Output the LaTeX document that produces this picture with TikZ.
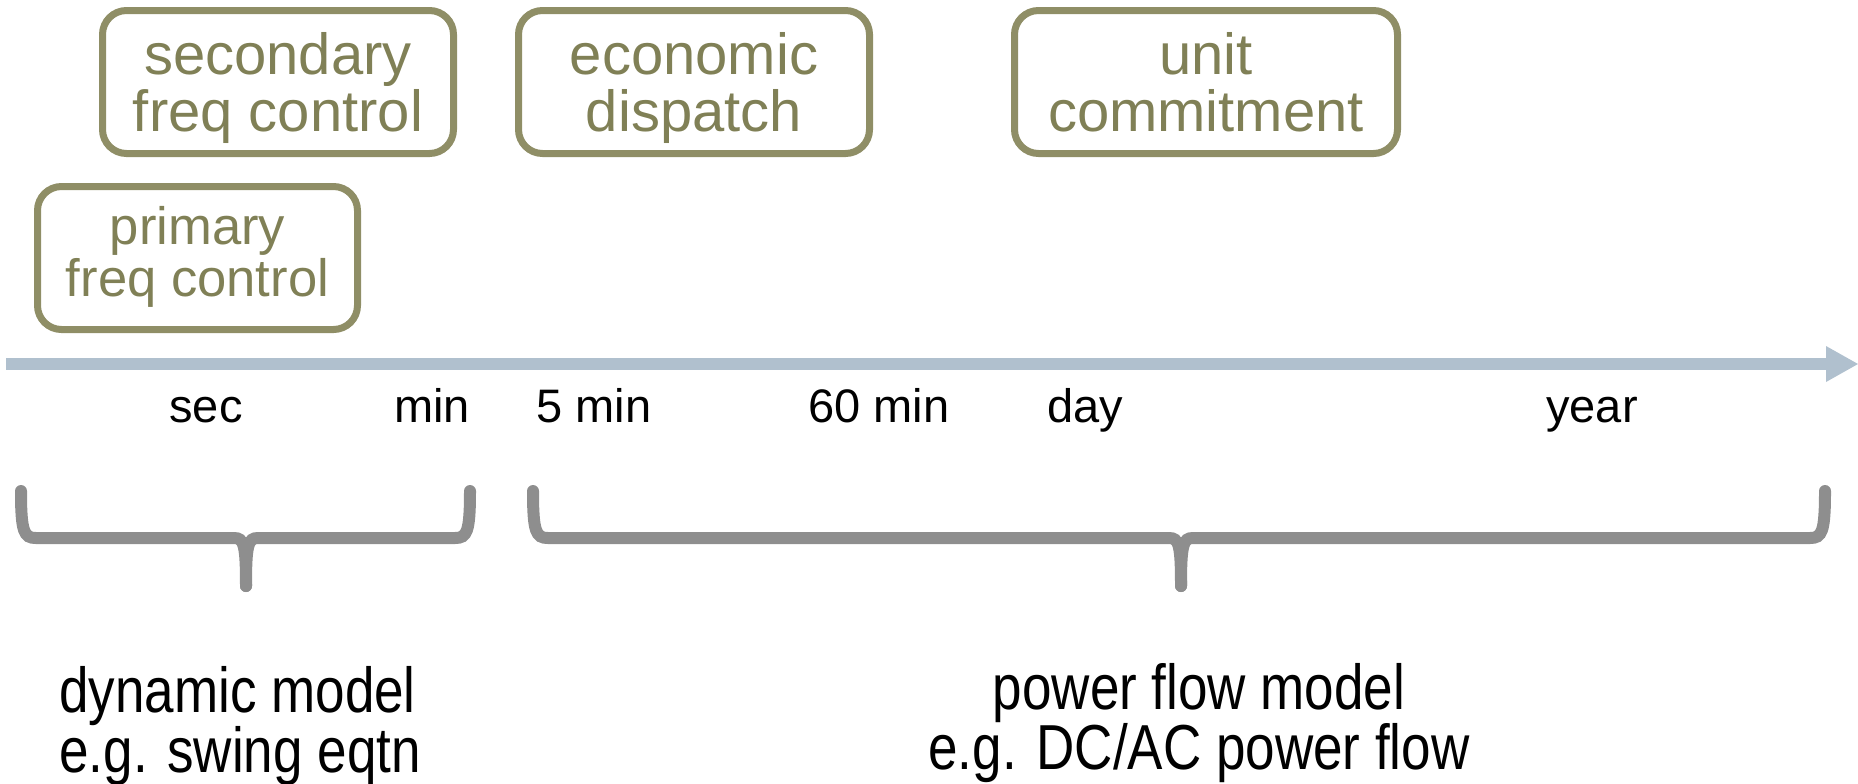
\documentclass[tikz,border=0pt]{standalone}
\usepackage{fontspec}
\setmainfont{Liberation Sans}
\usepackage{tikz}
\usetikzlibrary{arrows.meta}

\definecolor{boxolive}{RGB}{143,142,102}
\definecolor{textolive}{RGB}{128,128,86}
\definecolor{axisblue}{RGB}{176,192,206}
\definecolor{bracegray}{RGB}{142,142,142}

\begin{document}
\begin{tikzpicture}[x=0.5pt, y=-0.5pt,
    ctrlbox/.style={draw=boxolive, line width=3.5pt, rounded corners=12pt, text=textolive,
      align=center, minimum height=71.5pt, inner sep=0pt, text height=49pt, text depth=0pt,
      font=\fontsize{29}{28.5}\selectfont},
    timelabel/.style={font=\fontsize{23.5}{28}\selectfont, anchor=base},
    brace/.style={draw=bracegray, line width=6pt, line cap=round},
    model/.style={font=\fontsize{26.5}{30}\selectfont}]
  \useasboundingbox (0,0) rectangle (1858,783);

  % control tasks
  \node[ctrlbox, minimum width=175.5pt] (secondary) at (278,82) {secondary\\freq control};
  \node[ctrlbox, minimum width=160pt, text height=38pt, font=\fontsize{26.3}{24.5}\selectfont] (primary) at (197.5,258) {primary\\freq control};
  \node[ctrlbox, minimum width=175.5pt] (dispatch) at (694,82) {economic\\dispatch};
  \node[ctrlbox, minimum width=191.5pt] (commit) at (1206,82) {unit\\commitment};

  % time axis
  \coordinate (t0) at (6,364);
  \coordinate (t1) at (1858,364);
  \draw[draw=axisblue, line width=6pt, -{Triangle[length=16pt,width=18pt,line width=0pt]}] (t0) -- (t1);

  \node[timelabel] (sec) at (206,422) {sec};
  \node[timelabel] (min) at (432,422) {min};
  \node[timelabel] (fivemin) at (594,422) {5 min};
  \node[timelabel] (sixtymin) at (879,422) {60 min};
  \node[timelabel] (day) at (1085,422) {day};
  \node[timelabel] (year) at (1592,422) {year};

  % braces
  \draw[brace] (21,491) .. controls (21,532) and (24,538) .. (36,538) -- (234,538)
    .. controls (244,538) and (246,545) .. (246,586);
  \draw[brace] (470,491) .. controls (470,532) and (467,538) .. (455,538) -- (258,538)
    .. controls (248,538) and (246,545) .. (246,586);
  \draw[brace] (533,491) .. controls (533,532) and (536,538) .. (548,538) -- (1169,538)
    .. controls (1179,538) and (1181,545) .. (1181,586);
  \draw[brace] (1825,491) .. controls (1825,532) and (1822,538) .. (1810,538) -- (1193,538)
    .. controls (1183,538) and (1181,545) .. (1181,586);

  % models
  \node[model, anchor=base west, inner sep=0pt] (dynamic) at (59,712) {\scalebox{1}[1.2]{dynamic model}};
  \node[model, anchor=base west, inner sep=0pt] (swing) at (59,772) {\scalebox{1}[1.2]{e.g. swing eqtn}};
  \node[model, anchor=base] (flow) at (1199,709) {\scalebox{1}[1.2]{power flow model}};
  \node[model, anchor=base] (dcac) at (1199,769) {\scalebox{1}[1.2]{e.g. DC/AC power flow}};
\end{tikzpicture}
\end{document}
